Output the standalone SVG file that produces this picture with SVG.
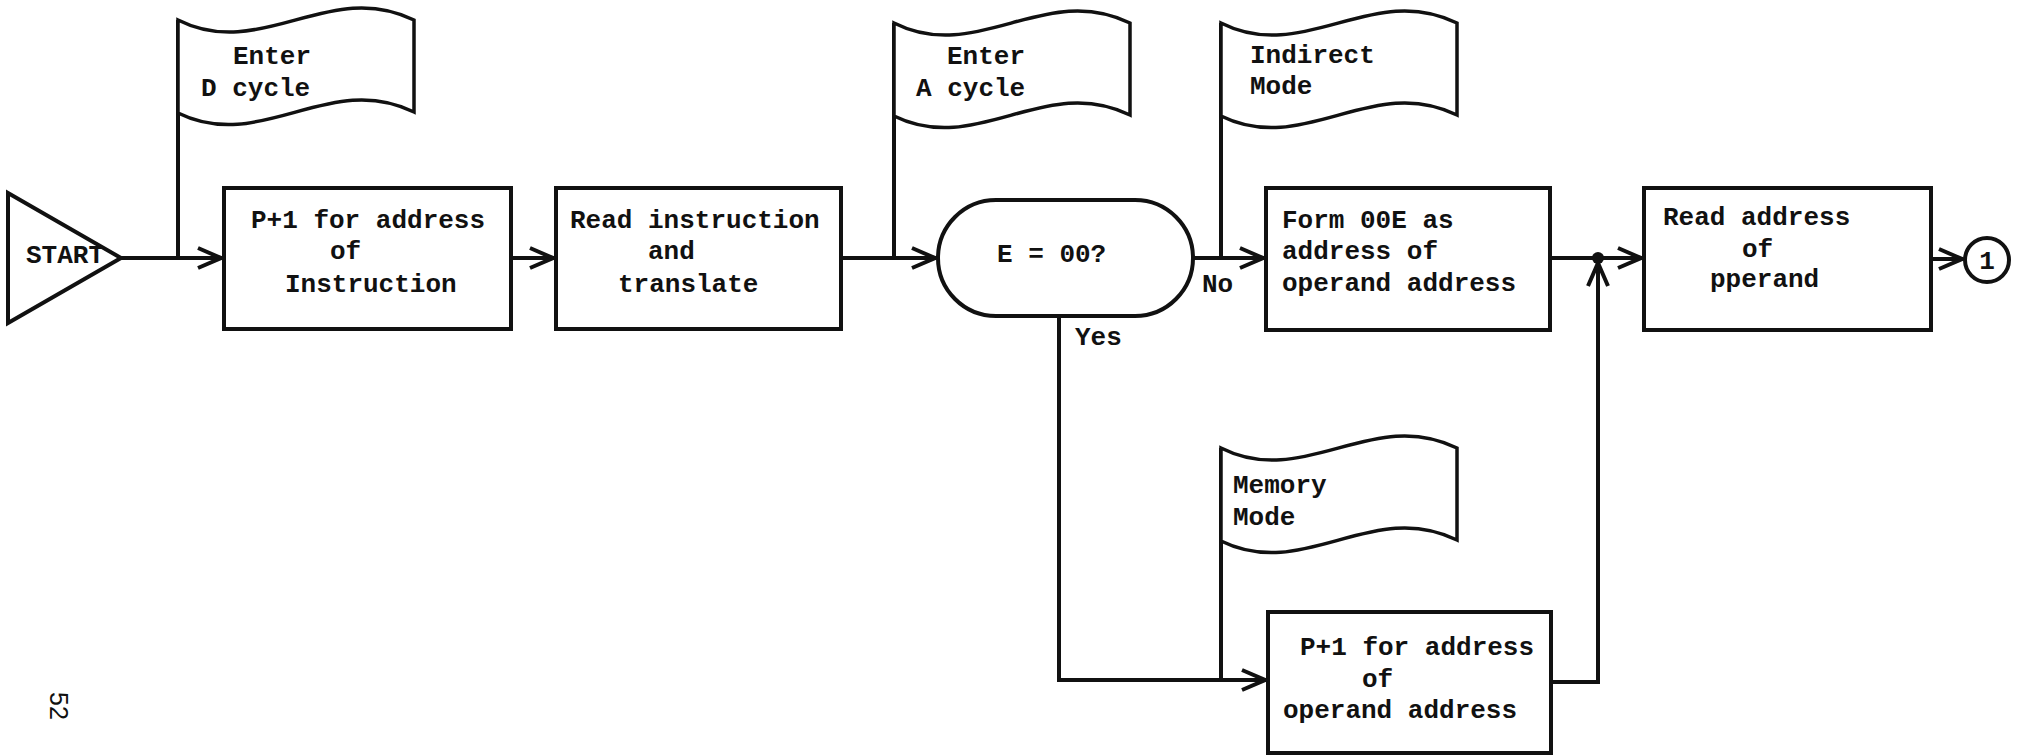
<svg xmlns="http://www.w3.org/2000/svg" width="2023" height="755" viewBox="0 0 2023 755">
  <style>
    .shape { fill: #fff; stroke: #111; stroke-width: 4; stroke-linejoin: miter; }
    .flag { fill: #fff; stroke: #111; stroke-width: 3.5; }
    .pole { fill: none; stroke: #111; stroke-width: 4; }
    .wire { fill: none; stroke: #111; stroke-width: 4; stroke-linejoin: miter; }
    .arrow { marker-end: url(#chev); }
    text { font-family: "Liberation Mono", "Courier New", monospace; font-weight: bold; font-size: 26px; fill: #111; }
    .pg { font-family: "Liberation Sans", Arial, sans-serif; font-weight: normal; font-size: 25px; }
  </style>
  <defs>
    <!-- open chevron arrowhead -->
    <marker id="chev" viewBox="-28 -13 30 26" refX="0" refY="0" markerWidth="30" markerHeight="26" markerUnits="userSpaceOnUse" orient="auto">
      <path d="M-24,-10 L-1,0 L-24,10" fill="none" stroke="#111" stroke-width="4"/>
    </marker>
    <!-- wavy flag (annotation) outline, width 236, height ~93 -->
    <path id="flagShape" d="M0,0 C83,42 151,-42 236,0 L236,92 C151,50 83,134 0,93 Z"/>
  </defs>
  <rect width="2023" height="755" fill="#fff"/>

  <!-- connectors -->
  <g id="connectors">
    <path class="wire arrow" d="M121,258 L222,258"/>
    <path class="wire arrow" d="M511,258 L554,258"/>
    <path class="wire arrow" d="M841,258 L936,258"/>
    <path class="wire arrow" d="M1193,258 L1264,258"/>
    <path class="wire arrow" d="M1550,258 L1642,258"/>
    <path class="wire arrow" d="M1931,259 L1963,259"/>
    <path class="wire arrow" d="M1059,316 L1059,680 L1266,680"/>
    <path class="wire arrow" d="M1551,682 L1598,682 L1598,262"/>
    <circle cx="1598" cy="258" r="6" fill="#111"/>
    <text x="1202" y="292">No</text>
    <text x="1075" y="345">Yes</text>
  </g>

  <!-- start terminal -->
  <g id="start">
    <path class="shape" d="M8,193 L121,258 L8,323 Z"/>
    <text x="26" y="263" textLength="78">START</text>
  </g>

  <!-- annotation: Enter D cycle -->
  <g id="flag-d-cycle">
    <line class="pole" x1="178" y1="258" x2="178" y2="20"/>
    <use href="#flagShape" class="flag" x="178" y="20"/>
    <text x="233" y="64">Enter</text>
    <text x="201" y="96">D cycle</text>
  </g>

  <g id="inc-p-instruction">
    <rect class="shape" x="224" y="188" width="287" height="141"/>
    <text x="251" y="228">P+1 for address</text>
    <text x="330" y="259">of</text>
    <text x="285" y="292">Instruction</text>
  </g>

  <g id="read-instruction">
    <rect class="shape" x="556" y="188" width="285" height="141"/>
    <text x="570" y="228">Read instruction</text>
    <text x="648" y="259">and</text>
    <text x="618" y="292">translate</text>
  </g>

  <!-- annotation: Enter A cycle -->
  <g id="flag-a-cycle">
    <line class="pole" x1="894" y1="258" x2="894" y2="23"/>
    <use href="#flagShape" class="flag" x="894" y="23"/>
    <text x="947" y="64">Enter</text>
    <text x="916" y="96">A cycle</text>
  </g>

  <g id="test-e">
    <rect class="shape" x="938" y="200" width="255" height="116" rx="58" ry="58"/>
    <text x="997" y="262">E = 00?</text>
  </g>

  <!-- annotation: Indirect Mode -->
  <g id="flag-indirect">
    <line class="pole" x1="1221" y1="258" x2="1221" y2="23"/>
    <use href="#flagShape" class="flag" x="1221" y="23"/>
    <text x="1250" y="63">Indirect</text>
    <text x="1250" y="94">Mode</text>
  </g>

  <g id="form-00e">
    <rect class="shape" x="1266" y="188" width="284" height="142"/>
    <text x="1282" y="228">Form 00E as</text>
    <text x="1282" y="259">address of</text>
    <text x="1282" y="291">operand address</text>
  </g>

  <g id="read-operand-address">
    <rect class="shape" x="1644" y="188" width="287" height="142"/>
    <text x="1663" y="225">Read address</text>
    <text x="1742" y="257">of</text>
    <text x="1710" y="287">pperand</text>
  </g>

  <g id="connector-1">
    <circle class="shape" cx="1987" cy="260" r="22" stroke-width="3.5"/>
    <text x="1987" y="269" text-anchor="middle">1</text>
  </g>

  <!-- annotation: Memory Mode -->
  <g id="flag-memory">
    <line class="pole" x1="1221" y1="680" x2="1221" y2="448"/>
    <use href="#flagShape" class="flag" x="1221" y="448"/>
    <text x="1233" y="493">Memory</text>
    <text x="1233" y="525">Mode</text>
  </g>

  <g id="inc-p-operand">
    <rect class="shape" x="1268" y="612" width="283" height="141"/>
    <text x="1300" y="655">P+1 for address</text>
    <text x="1362" y="687">of</text>
    <text x="1283" y="718">operand address</text>
  </g>

  <!-- page number -->
  <text class="pg" transform="translate(50,692) rotate(90)">52</text>
</svg>
